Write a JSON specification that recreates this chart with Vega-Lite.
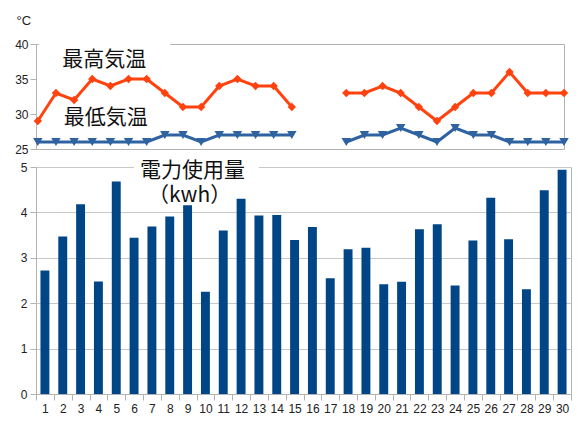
{
  "$schema": "https://vega.github.io/schema/vega-lite/v6.json",
  "background": "white",
  "padding": {"left": 14, "top": 13, "right": 6, "bottom": 4},
  "bounds": "flush",
  "spacing": 18,
  "config": {
    "font": "Liberation Sans",
    "view": {"stroke": "#b3b3b3", "strokeWidth": 1},
    "axis": {
      "labelFont": "Liberation Sans",
      "labelFontSize": 12,
      "labelColor": "#222222",
      "gridColor": "#c8c8c8",
      "domainColor": "#b3b3b3",
      "tickColor": "#b3b3b3",
      "tickSize": 6,
      "labelPadding": 2
    },
    "axisY": {
      "titleAngle": 0,
      "titleAlign": "left",
      "titleBaseline": "middle",
      "titleX": -20,
      "titleY": -24,
      "titleFont": "Liberation Sans",
      "titleFontSize": 13,
      "titleFontWeight": "normal",
      "titleColor": "#222222"
    },
    "text": {"font": "Noto Sans CJK JP", "fontSize": 21, "color": "#111111", "baseline": "middle"}
  },
  "datasets": {
    "temp": [
      {"day": 1, "high": 29, "low": 26},
      {"day": 2, "high": 33, "low": 26},
      {"day": 3, "high": 32, "low": 26},
      {"day": 4, "high": 35, "low": 26},
      {"day": 5, "high": 34, "low": 26},
      {"day": 6, "high": 35, "low": 26},
      {"day": 7, "high": 35, "low": 26},
      {"day": 8, "high": 33, "low": 27},
      {"day": 9, "high": 31, "low": 27},
      {"day": 10, "high": 31, "low": 26},
      {"day": 11, "high": 34, "low": 27},
      {"day": 12, "high": 35, "low": 27},
      {"day": 13, "high": 34, "low": 27},
      {"day": 14, "high": 34, "low": 27},
      {"day": 15, "high": 31, "low": 27},
      {"day": 16, "high": null, "low": null},
      {"day": 17, "high": null, "low": null},
      {"day": 18, "high": 33, "low": 26},
      {"day": 19, "high": 33, "low": 27},
      {"day": 20, "high": 34, "low": 27},
      {"day": 21, "high": 33, "low": 28},
      {"day": 22, "high": 31, "low": 27},
      {"day": 23, "high": 29, "low": 26},
      {"day": 24, "high": 31, "low": 28},
      {"day": 25, "high": 33, "low": 27},
      {"day": 26, "high": 33, "low": 27},
      {"day": 27, "high": 36, "low": 26},
      {"day": 28, "high": 33, "low": 26},
      {"day": 29, "high": 33, "low": 26},
      {"day": 30, "high": 33, "low": 26}
    ],
    "power": [
      {"day": 1, "kwh": 2.72},
      {"day": 2, "kwh": 3.47},
      {"day": 3, "kwh": 4.18},
      {"day": 4, "kwh": 2.48},
      {"day": 5, "kwh": 4.68},
      {"day": 6, "kwh": 3.44},
      {"day": 7, "kwh": 3.69},
      {"day": 8, "kwh": 3.91},
      {"day": 9, "kwh": 4.16},
      {"day": 10, "kwh": 2.25},
      {"day": 11, "kwh": 3.6},
      {"day": 12, "kwh": 4.3},
      {"day": 13, "kwh": 3.93},
      {"day": 14, "kwh": 3.94},
      {"day": 15, "kwh": 3.39},
      {"day": 16, "kwh": 3.68},
      {"day": 17, "kwh": 2.55},
      {"day": 18, "kwh": 3.19},
      {"day": 19, "kwh": 3.22},
      {"day": 20, "kwh": 2.42},
      {"day": 21, "kwh": 2.47},
      {"day": 22, "kwh": 3.63},
      {"day": 23, "kwh": 3.74},
      {"day": 24, "kwh": 2.39},
      {"day": 25, "kwh": 3.38},
      {"day": 26, "kwh": 4.32},
      {"day": 27, "kwh": 3.41},
      {"day": 28, "kwh": 2.31},
      {"day": 29, "kwh": 4.49},
      {"day": 30, "kwh": 4.94}
    ],
    "note": [{}]
  },
  "vconcat": [
    {
      "width": 528,
      "height": 105,
      "layer": [
        {
          "data": {"name": "note"},
          "mark": {"type": "rect", "fill": "white"},
          "encoding": {
            "x": {"datum": 1.06, "type": "quantitative", "scale": {"domain": [0.9, 30], "nice": false, "zero": false}, "axis": null},
            "x2": {"datum": 8.3},
            "y": {"datum": 40.4, "type": "quantitative", "title": "°C", "scale": {"domain": [25, 40], "nice": false, "zero": false}},
            "y2": {"datum": 36.2}
          }
        },
        {
          "data": {"name": "note"},
          "mark": {"type": "rect", "fill": "white"},
          "encoding": {
            "x": {"datum": 2.35, "type": "quantitative"},
            "x2": {"datum": 7.3},
            "y": {"datum": 30.6, "type": "quantitative", "title": "°C"},
            "y2": {"datum": 28.4}
          }
        },
        {
          "data": {"name": "temp"},
          "mark": {
            "type": "line",
            "color": "#ff420e",
            "strokeWidth": 3,
            "invalid": "break-paths-filter-domains",
            "point": {"shape": "diamond", "size": 70, "filled": true, "color": "#ff420e", "opacity": 1}
          },
          "encoding": {
            "x": {"field": "day", "type": "quantitative"},
            "y": {"field": "high", "type": "quantitative", "title": "°C"}
          }
        },
        {
          "data": {"name": "temp"},
          "mark": {
            "type": "line",
            "color": "#2f62a0",
            "strokeWidth": 3,
            "invalid": "break-paths-filter-domains",
            "point": {"shape": "triangle-down", "size": 90, "filled": true, "color": "#2f62a0", "opacity": 1}
          },
          "encoding": {
            "x": {"field": "day", "type": "quantitative"},
            "y": {"field": "low", "type": "quantitative", "title": "°C"}
          }
        },
        {
          "data": {"name": "note"},
          "mark": {"type": "text", "text": "最高気温"},
          "encoding": {
            "x": {"datum": 4.66, "type": "quantitative"},
            "y": {"datum": 37.7, "type": "quantitative", "title": "°C"}
          }
        },
        {
          "data": {"name": "note"},
          "mark": {"type": "text", "text": "最低気温"},
          "encoding": {
            "x": {"datum": 4.75, "type": "quantitative"},
            "y": {"datum": 29.4, "type": "quantitative", "title": "°C"}
          }
        }
      ]
    },
    {
      "width": 535,
      "height": 227,
      "data": {"name": "power"},
      "layer": [
        {
          "mark": {"type": "bar", "color": "#004586", "width": {"band": 0.5}},
          "encoding": {
            "x": {
              "field": "day",
              "type": "ordinal",
              "scale": {"paddingInner": 0, "paddingOuter": 0},
              "axis": {"title": null, "labelAngle": 0, "tickBand": "extent", "labelPadding": 3, "grid": false}
            },
            "y": {
              "field": "kwh",
              "type": "quantitative",
              "title": null,
              "scale": {"domain": [0, 5], "nice": false},
              "axis": {"labelPadding": 3}
            }
          }
        },
        {
          "data": {"name": "note"},
          "mark": {"type": "rect", "fill": "white"},
          "encoding": {
            "x": {"datum": 6, "type": "ordinal"},
            "x2": {"datum": 13},
            "y": {"datum": 5.1, "type": "quantitative"},
            "y2": {"datum": 4.77}
          }
        },
        {
          "data": {"name": "note"},
          "mark": {"type": "text", "text": "電力使用量", "dx": 5},
          "encoding": {
            "x": {"datum": 9, "type": "ordinal"},
            "y": {"datum": 4.92, "type": "quantitative"}
          }
        },
        {
          "data": {"name": "note"},
          "mark": {"type": "text", "text": "（kwh）", "dx": 2},
          "encoding": {
            "x": {"datum": 9, "type": "ordinal"},
            "y": {"datum": 4.37, "type": "quantitative"}
          }
        }
      ]
    }
  ]
}
